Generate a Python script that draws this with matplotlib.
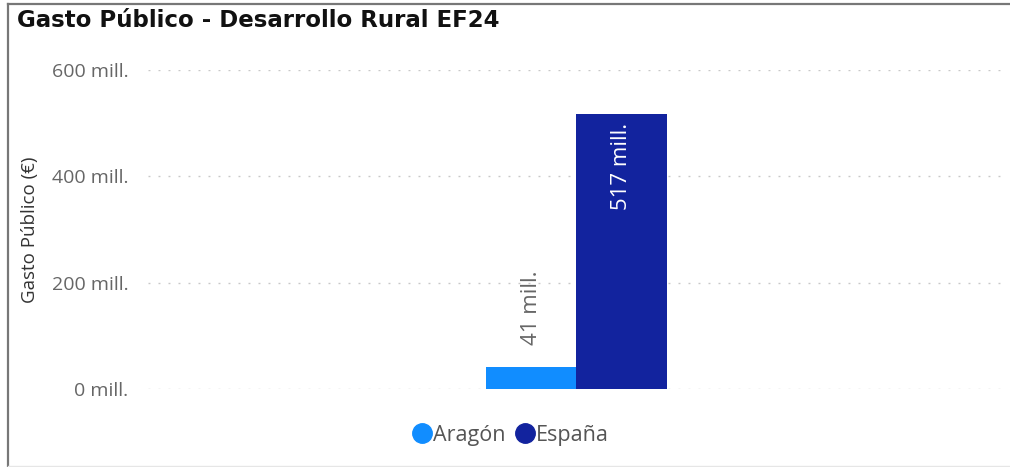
import matplotlib.pyplot as plt
import numpy as np
from matplotlib.lines import Line2D

# data (millones de euros)
regiones = ['Aragón', 'España']
gasto = [41, 517]
colores = ['#118DFF', '#12239E']
yticks = [0, 200, 400, 600]
ytick_labels = ['0 mill.', '200 mill.', '400 mill.', '600 mill.']

plt.rcParams['font.family'] = ['Open Sans', 'DejaVu Sans']

fig = plt.figure(figsize=(10.1, 4.67), dpi=100)
ax = fig.add_axes([0.1465, 0.167, 0.8485, 0.683])

ancho = 0.1056
x = (np.arange(len(regiones)) - (len(regiones) - 1) / 2) * ancho
bars = ax.bar(x, gasto, width=ancho, color=colores, label=regiones, zorder=3)

ax.set_xlim(-0.5, 0.5)
ax.set_ylim(0, 600)
ax.set_xticks([])
ax.set_yticks(yticks)
ax.set_yticklabels(ytick_labels, fontsize=14, color='#666666')
ax.tick_params(axis='y', length=0, pad=14)
for s in ax.spines.values():
    s.set_visible(False)
ax.yaxis.grid(True, color='#c8c8c8', linewidth=1, linestyle=(0, (1.4, 5.8)))
ax.set_ylabel('Gasto Público (€)', fontsize=13.5, color='#333333')
ax.yaxis.set_label_coords(-0.127, 0.5)

# etiquetas de datos
ax.annotate(f'{gasto[0]} mill.', (x[0], gasto[0]), xytext=(0, 16), textcoords='offset points',
            rotation=90, ha='center', va='bottom', fontsize=16, color='#666666')
ax.annotate(f'{gasto[1]} mill.', (x[1], gasto[1]), xytext=(0, -6), textcoords='offset points',
            rotation=90, ha='center', va='top', fontsize=16, color='white')

leg = fig.legend(handles=[Line2D([], [], marker='o', linestyle='', markersize=14, color=c) for c in colores],
                 labels=regiones, loc='center', bbox_to_anchor=(0.505, 0.068), ncol=2,
                 frameon=False, fontsize=15.5, handletextpad=0.0, columnspacing=0.4, handlelength=1.0)
for t in leg.get_texts():
    t.set_color('#555555')

fig.text(0.017, 0.957, 'Gasto Público - Desarrollo Rural EF24', fontsize=16.5, fontweight='bold',
         family='DejaVu Sans', color='#111111', va='center', ha='left')

# marco
fig.add_artist(Line2D([0.008, 0.008], [0, 0.992], color='#777777', linewidth=1.6))
fig.add_artist(Line2D([0.008, 1], [0.992, 0.992], color='#777777', linewidth=1.6))
fig.add_artist(Line2D([0.008, 1], [0.002, 0.002], color='#e6e6e6', linewidth=1))

fig.savefig('out.png', dpi=100)
